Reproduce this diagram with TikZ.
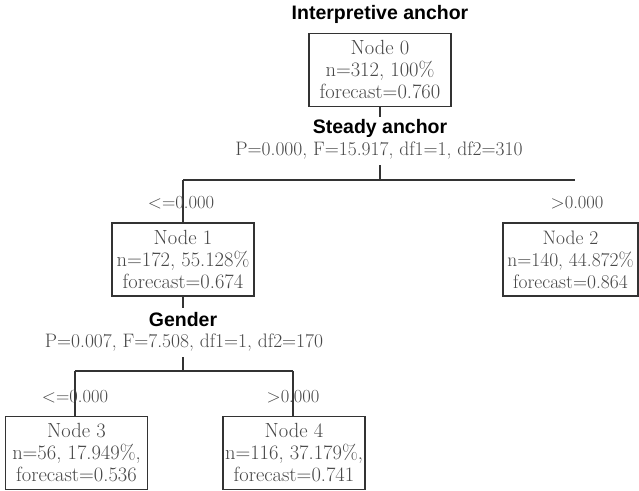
\documentclass[tikz,border=0pt]{standalone}
\usepackage{fontspec}
\newfontfamily\headfont{Liberation Sans}
\definecolor{txtgrey}{HTML}{474747}
\definecolor{linegrey}{HTML}{333333}
\tikzset{
  treebox/.style={draw=linegrey, line width=1.4pt, minimum width=142pt, minimum height=73pt,
    inner sep=0pt, align=center, text=txtgrey, font=\fontsize{20.5}{22}\selectfont},
  headtext/.style={inner sep=0pt, font=\headfont\bfseries\fontsize{19.5}{21}\selectfont, text=black},
  stattext/.style={inner sep=0pt, font=\fontsize{19.5}{21}\selectfont, text=txtgrey},
  cutlabel/.style={inner sep=0pt, font=\fontsize{18.5}{20}\selectfont, text=txtgrey},
  branch/.style={draw=linegrey, line width=1.4pt}
}
\begin{document}
\begin{tikzpicture}[x=1pt,y=-1pt]
\useasboundingbox (0,0) rectangle (639,490);
\fill[white] (0,0) rectangle (639,490);
% root
\node[headtext] (h0) at (380,14) {Interpretive anchor};
\node[treebox] (n0) at (380,70) {Node 0\\n=312, 100\%\\forecast=0.760};
\node[headtext] (h1) at (380,128) {Steady anchor};
\node[stattext] (s0) at (379,151) {P=0.000, F=15.917, df1=1, df2=310};
\coordinate (a0) at (380,117);
\coordinate (b0) at (380,165);
\coordinate (j0) at (380,180);
\coordinate (jl) at (183,180);
\coordinate (jr) at (575,180);
\draw[branch] (n0.south) -- (a0);
\draw[branch] (b0) -- (j0);
\draw[branch] (jl) -- (jr);
% level 1
\node[treebox] (n1) at (183,259.5) {Node 1\\n=172, 55.128\%\\forecast=0.674};
\node[treebox, minimum width=135pt, font=\fontsize{19.5}{22}\selectfont] (n2) at (570.5,259.5) {Node 2\\n=140, 44.872\%\\forecast=0.864};
\draw[branch] (jl) -- (n1.north);
\node[cutlabel] (l1) at (181,203) {<=0.000};
\node[cutlabel] (l2) at (577,203) {>0.000};
% split 2
\coordinate (a1) at (183,308);
\node[headtext] (h2) at (183,320) {Gender};
\node[stattext] (s1) at (184,343) {P=0.007, F=7.508, df1=1, df2=170};
\coordinate (b1) at (183,357);
\coordinate (j1) at (183,371);
\coordinate (kl) at (75,371);
\coordinate (kr) at (293,371);
\draw[branch] (n1.south) -- (a1);
\draw[branch] (b1) -- (j1);
\draw[branch] (kl) -- (kr);
% level 2
\node[treebox] (n3) at (76.5,453) {Node 3\\n=56, 17.949\%,\\forecast=0.536};
\node[treebox] (n4) at (294,453) {Node 4\\n=116, 37.179\%,\\forecast=0.741};
\draw[branch] (kl) -- (kl |- n3.north);
\draw[branch] (kr) -- (kr |- n4.north);
\node[cutlabel] (l3) at (75,397) {<=0.000};
\node[cutlabel] (l4) at (293,397) {>0.000};
\end{tikzpicture}
\end{document}
